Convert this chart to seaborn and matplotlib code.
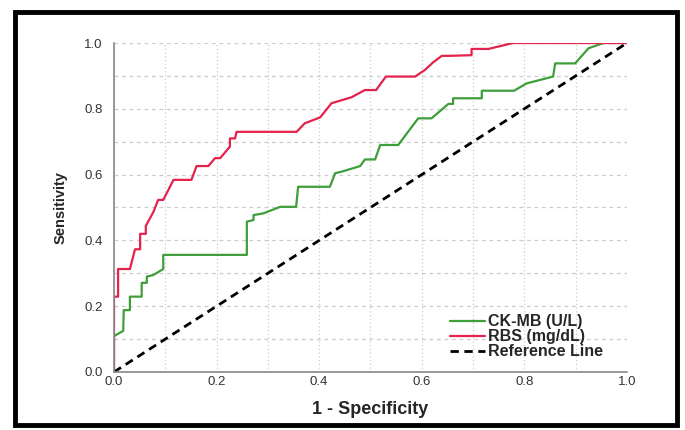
import matplotlib
matplotlib.use('Agg')
import matplotlib.pyplot as plt
import seaborn as sns
import pandas as pd
from matplotlib.patches import Rectangle

# ROC points (1 - specificity, sensitivity)
ckmb_fpr = [0.0, 0.0, 0.018, 0.019, 0.031, 0.031, 0.054, 0.054, 0.064, 0.064, 0.077, 0.096,
            0.096, 0.259, 0.259, 0.272, 0.272, 0.291, 0.324, 0.355, 0.359, 0.421, 0.431,
            0.444, 0.480, 0.489, 0.509, 0.519, 0.554, 0.593, 0.619, 0.652, 0.661, 0.661,
            0.717, 0.717, 0.780, 0.804, 0.856, 0.860, 0.899, 0.925, 0.954, 1.0]
ckmb_tpr = [0.0, 0.109, 0.125, 0.188, 0.188, 0.229, 0.229, 0.271, 0.271, 0.290, 0.295, 0.313,
            0.356, 0.356, 0.457, 0.462, 0.477, 0.482, 0.502, 0.502, 0.563, 0.563, 0.604,
            0.609, 0.626, 0.646, 0.646, 0.690, 0.690, 0.771, 0.771, 0.815, 0.815, 0.832,
            0.832, 0.855, 0.855, 0.877, 0.898, 0.938, 0.938, 0.984, 1.0, 1.0]

rbs_fpr = [0.0, 0.0, 0.008, 0.008, 0.031, 0.041, 0.051, 0.051, 0.062, 0.062, 0.077, 0.086,
           0.096, 0.116, 0.151, 0.161, 0.184, 0.197, 0.207, 0.226, 0.226, 0.236, 0.239,
           0.356, 0.372, 0.402, 0.424, 0.463, 0.489, 0.511, 0.530, 0.587, 0.606, 0.622,
           0.639, 0.655, 0.697, 0.697, 0.730, 0.778, 1.0]
rbs_tpr = [0.0, 0.229, 0.229, 0.313, 0.313, 0.373, 0.373, 0.420, 0.420, 0.444, 0.487, 0.523,
           0.523, 0.584, 0.584, 0.626, 0.626, 0.650, 0.650, 0.685, 0.710, 0.710, 0.730,
           0.730, 0.756, 0.774, 0.817, 0.835, 0.857, 0.857, 0.898, 0.898, 0.918, 0.941,
           0.961, 0.961, 0.963, 0.982, 0.982, 1.0, 1.0]

ref_x = [0.0, 1.0]
ref_y = [0.0, 1.0]
tick_vals = [0.0, 0.2, 0.4, 0.6, 0.8, 1.0]
tick_labels = ['0.0', '0.2', '0.4', '0.6', '0.8', '1.0']

ckmb = pd.DataFrame({'fpr': ckmb_fpr, 'tpr': ckmb_tpr})
rbs = pd.DataFrame({'fpr': rbs_fpr, 'tpr': rbs_tpr})

sns.set_style('white')
plt.rcParams['font.family'] = ['Liberation Sans', 'DejaVu Sans']

fig = plt.figure(figsize=(6.85, 4.3), dpi=100)
ax = fig.add_axes([0.1664, 0.1349, 0.7489, 0.7651])

ax.set_xticks([i / 10 for i in range(11)], minor=True)
ax.set_yticks([i / 10 for i in range(11)], minor=True)
ax.xaxis.grid(True, which='both', color='#cccccc', linestyle=(0, (1, 2)), linewidth=0.9)
ax.yaxis.grid(True, which='both', color='#cccccc', linestyle=(0, (3, 3)), linewidth=0.9)

sns.lineplot(data=ckmb, x='fpr', y='tpr', ax=ax, color='#3e9e3a', linewidth=1.6,
             sort=False, estimator=None, label='CK-MB (U/L)')
sns.lineplot(data=rbs, x='fpr', y='tpr', ax=ax, color='#e5224b', linewidth=1.6,
             sort=False, estimator=None, label='RBS (mg/dL)')
ax.plot(ref_x, ref_y, color='black', linestyle=(0, (3, 2)), linewidth=2.0,
        label='Reference Line')

ax.set_xlim(0, 1)
ax.set_ylim(0, 1)
ax.set_xticks(tick_vals)
ax.set_yticks(tick_vals)
ax.set_xticklabels(tick_labels, fontsize=9.5, color='#333333')
ax.set_yticklabels(tick_labels, fontsize=9.5, color='#333333')
ax.tick_params(axis='y', which='both', length=0, pad=8)
ax.tick_params(axis='x', which='both', length=0, pad=3)

for side in ['top', 'right']:
    ax.spines[side].set_visible(False)
for side in ['left', 'bottom']:
    ax.spines[side].set_color('#888888')
    ax.spines[side].set_linewidth(1.2)

ax.set_xlabel('1 - Specificity', fontsize=13, fontweight='bold', labelpad=9)
ax.set_ylabel('Sensitivity', fontsize=10.5, fontweight='bold', labelpad=12)

ax.legend(loc='lower right', bbox_to_anchor=(0.975, 0.005), frameon=False,
          prop={'weight': 'bold', 'size': 11.5}, handlelength=2.2,
          handletextpad=0.2, labelspacing=0.0, borderpad=0.2)

# thick outer frame
fig.patches.append(Rectangle((15 / 685, 5 / 430), 662 / 685, 413 / 430,
                             transform=fig.transFigure, fill=False,
                             edgecolor='black', linewidth=3.5))

plt.savefig('out.png', dpi=100)
